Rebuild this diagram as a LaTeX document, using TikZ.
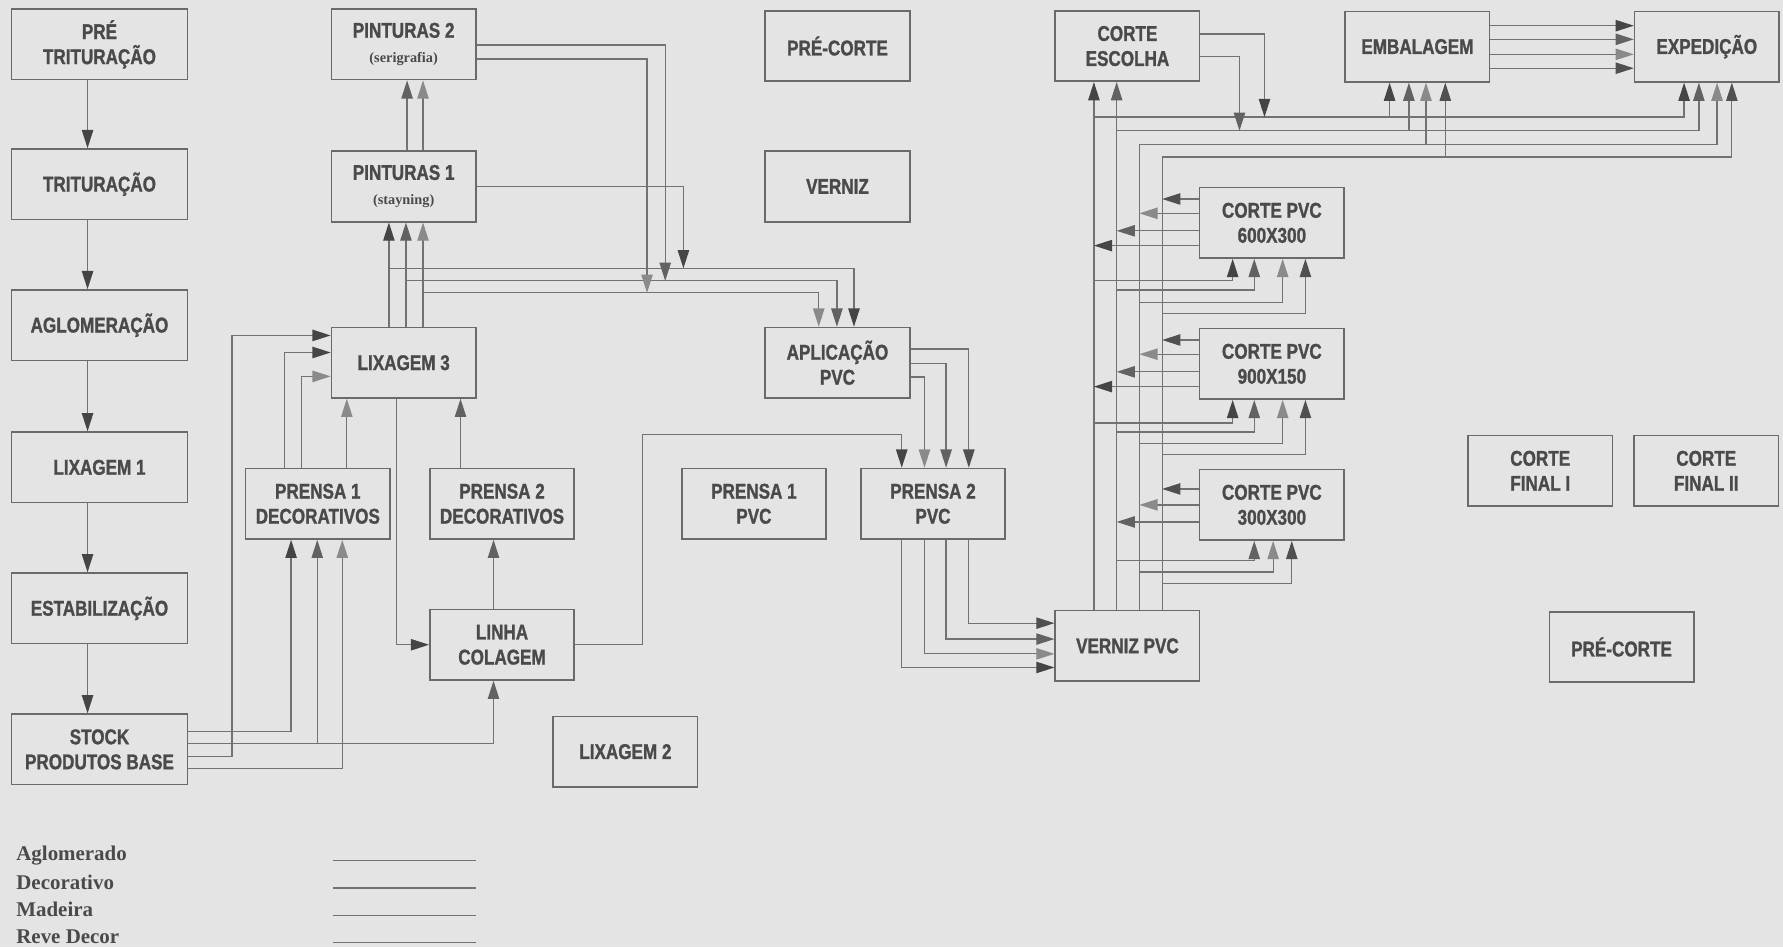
\documentclass[tikz,border=0pt]{standalone}
\usepackage{fontspec}
\newfontfamily\boxfont{Liberation Sans}[FakeStretch=0.8, BoldFeatures={FakeBold=1.2}]
\newfontfamily\legfont{Liberation Serif}
\usetikzlibrary{arrows.meta}
\definecolor{bg}{HTML}{E4E4E4}
\definecolor{edge}{HTML}{6A6A6A}
\definecolor{txt}{HTML}{4A4A4A}
\definecolor{ln}{HTML}{727272}
\definecolor{ca}{HTML}{454545}
\definecolor{cb}{HTML}{626262}
\definecolor{cc}{HTML}{8A8A8A}
\definecolor{cd}{HTML}{505050}
\tikzset{
  box/.style={draw=edge, line width=0.7pt, inner sep=0pt, minimum width=63.5pt,
    minimum height=31pt, align=center, text=txt,
    font=\boxfont\bfseries\fontsize{9.4}{11}\selectfont},
  wide/.style={minimum width=77.5pt},
  conn/.style={draw=ln, line width=0.55pt},
  a1/.style={conn, -{Triangle[length=8pt,width=5pt,color=ca]}},
  a2/.style={conn, -{Triangle[length=8pt,width=5pt,color=cb]}},
  a3/.style={conn, -{Triangle[length=8pt,width=5pt,color=cc]}},
  a4/.style={conn, -{Triangle[length=8pt,width=5pt,color=cd]}},
  leg/.style={anchor=west, inner sep=0pt, text=txt,
    font=\legfont\bfseries\fontsize{9.2}{11}\selectfont},
}
\newcommand{\subtxt}[1]{{\legfont\bfseries\fontsize{6.3}{8}\selectfont #1}}
\begin{document}
\begin{tikzpicture}[x=0.5pt,y=-0.5pt]
\path[use as bounding box, fill=bg] (0,0) rectangle (1568,833);

% left column
\node[box,wide] (pretrit) at (87.5,39) {PRÉ\\TRITURAÇÃO};
\node[box,wide] (trit) at (87.5,162) {TRITURAÇÃO};
\node[box,wide] (aglom) at (87.5,286) {AGLOMERAÇÃO};
\node[box,wide] (lix1) at (87.5,411) {LIXAGEM 1};
\node[box,wide] (estab) at (87.5,535) {ESTABILIZAÇÃO};
\node[box,wide] (stock) at (87.5,659) {STOCK\\PRODUTOS BASE};

% second group
\node[box] (pint2) at (355,39) {PINTURAS 2\\[0pt]\subtxt{(serigrafia)}};
\node[box] (pint1) at (355,164) {PINTURAS 1\\[0pt]\subtxt{(stayning)}};
\node[box] (lix3) at (355,319) {LIXAGEM 3};
\node[box] (pren1d) at (279.5,443) {PRENSA 1\\DECORATIVOS};
\node[box] (pren2d) at (441.5,443) {PRENSA 2\\DECORATIVOS};
\node[box] (linha) at (441.5,567) {LINHA\\COLAGEM};
\node[box] (lix2) at (550,661) {LIXAGEM 2};

% middle
\node[box] (precorte1) at (736.5,40.5) {PRÉ-CORTE};
\node[box] (verniz) at (736.5,164) {VERNIZ};
\node[box] (aplic) at (736.5,319) {APLICAÇÃO\\PVC};
\node[box] (pren1p) at (663,443) {PRENSA 1\\PVC};
\node[box] (pren2p) at (820.5,443) {PRENSA 2\\PVC};
\node[box] (vernizp) at (991.5,568) {VERNIZ PVC};

% right
\node[box] (corteesc) at (991.5,40.5) {CORTE\\ESCOLHA};
\node[box] (embal) at (1246.5,41) {EMBALAGEM};
\node[box] (exped) at (1501,41) {EXPEDIÇÃO};
\node[box] (cpvc1) at (1118.5,196) {CORTE PVC\\600X300};
\node[box] (cpvc2) at (1118.5,320) {CORTE PVC\\900X150};
\node[box] (cpvc3) at (1118.5,444) {CORTE PVC\\300X300};
\node[box] (cfinal1) at (1354.5,414) {CORTE\\FINAL I};
\node[box] (cfinal2) at (1500.5,414) {CORTE\\FINAL II};
\node[box] (precorte2) at (1426,569) {PRÉ-CORTE};

% left column flow
\foreach \s/\t in {pretrit/trit, trit/aglom, aglom/lix1, lix1/estab, estab/stock}
  \draw[a1] (\s.south -| 77,0) -- (\t.north -| 77,0);

% stock outputs
\draw[a1] (stock.east |- 0,643.5) -| (pren1d.south -| 256,0);
\draw[a2] (stock.east |- 0,654) -| (pren1d.south -| 279,0);
\draw[a2] (stock.east |- 0,654) -| (linha.south -| 434,0);
\draw[a1] (stock.east |- 0,665) -| (204,295) -- (lix3.west |- 0,295);
\draw[a3] (stock.east |- 0,676) -| (pren1d.south -| 301,0);

% prensa decorativos -> lixagem 3
\draw[a1] (pren1d.north -| 250,0) |- (lix3.west |- 0,310);
\draw[a3] (pren1d.north -| 265,0) |- (lix3.west |- 0,331);
\draw[a3] (pren1d.north -| 305,0) -- (lix3.south -| 305,0);
\draw[a2] (pren2d.north -| 405,0) -- (lix3.south -| 405,0);
\draw[a2] (linha.north -| 434,0) -- (pren2d.south -| 434,0);
\draw[a1] (lix3.south -| 349,0) |- (linha.west);
\draw[a1] (linha.east) -| (565,382) -| (pren2p.north -| 793,0);

% lixagem 3 -> pinturas 1 and aplicacao
\draw[a1] (lix3.north -| 342,0) -- (pint1.south -| 342,0);
\draw[a2] (lix3.north -| 357,0) -- (pint1.south -| 357,0);
\draw[a3] (lix3.north -| 372,0) -- (pint1.south -| 372,0);
\draw[a1] (lix3.north -| 342,0) |- (751,236) -- (aplic.north -| 751,0);
\draw[a2] (lix3.north -| 357,0) |- (736,247) -- (aplic.north -| 736,0);
\draw[a3] (lix3.north -| 372,0) |- (720,257.5) -- (aplic.north -| 720,0);

% pinturas
\draw[a2] (pint1.north -| 358,0) -- (pint2.south -| 358,0);
\draw[a3] (pint1.north -| 372,0) -- (pint2.south -| 372,0);
\coordinate (m1) at (601,236);
\coordinate (m2) at (585,247);
\coordinate (m3) at (569,257.5);
\draw[a1] (pint1.east) -| (m1);
\draw[a2] (pint2.east |- 0,39.6) -| (m2);
\draw[a3] (pint2.east |- 0,52) -| (m3);

% aplicacao -> prensa 2 pvc
\draw[a4] (aplic.east |- 0,307) -| (pren2p.north -| 852,0);
\draw[a2] (aplic.east |- 0,319.6) -| (pren2p.north -| 832,0);
\draw[a3] (aplic.east |- 0,331.5) -| (pren2p.north -| 813,0);

% prensa 2 pvc -> verniz pvc
\draw[a4] (pren2p.south -| 852,0) |- (vernizp.west |- 0,548);
\draw[a2] (pren2p.south -| 832,0) |- (vernizp.west |- 0,562);
\draw[a3] (pren2p.south -| 813,0) |- (vernizp.west |- 0,575);
\draw[a1] (pren2p.south -| 793,0) |- (vernizp.west |- 0,587);

% verniz pvc trunks
\draw[a1] (vernizp.north -| 962,0) -- (corteesc.south -| 962,0);
\draw[a2] (vernizp.north -| 982,0) -- (corteesc.south -| 982,0);
\coordinate (j1) at (962,103);
\coordinate (j2) at (982,115);
\draw[a1] (j1) -| (exped.south -| 1481,0);
\draw[a1] (j1 -| 1222,0) -- (embal.south -| 1222,0);
\draw[a2] (j2) -| (exped.south -| 1494,0);
\draw[a2] (j2 -| 1239,0) -- (embal.south -| 1239,0);
\draw[a3] (vernizp.north -| 1002,0) |- (1510,127) -- (exped.south -| 1510,0);
\draw[a3] (1254,127) -- (embal.south -| 1254,0);
\draw[a4] (vernizp.north -| 1022,0) |- (1523,138) -- (exped.south -| 1523,0);
\draw[a4] (1271,138) -- (embal.south -| 1271,0);

% corte escolha outputs
\coordinate (k1) at (1112,103);
\coordinate (k2) at (1090,115);
\draw[a1] (corteesc.east |- 0,30) -| (k1);
\draw[a2] (corteesc.east |- 0,50) -| (k2);

% embalagem -> expedicao
\draw[a1] (embal.east |- 0,22.6) -- (exped.west |- 0,22.6);
\draw[a2] (embal.east |- 0,34.6) -- (exped.west |- 0,34.6);
\draw[a3] (embal.east |- 0,47.8) -- (exped.west |- 0,47.8);
\draw[a4] (embal.east |- 0,60) -- (exped.west |- 0,60);

% corte pvc 600x300
\draw[a4] (cpvc1.west |- 0,175) -- (1022,175);
\draw[a3] (cpvc1.west |- 0,187.6) -- (1002,187.6);
\draw[a2] (cpvc1.west |- 0,203) -- (982,203);
\draw[a1] (cpvc1.west |- 0,216) -- (962,216);
\draw[a1] (962,247) -| (cpvc1.south -| 1084,0);
\draw[a2] (982,255) -| (cpvc1.south -| 1103,0);
\draw[a3] (1002,266) -| (cpvc1.south -| 1128,0);
\draw[a4] (1022,276) -| (cpvc1.south -| 1148,0);

% corte pvc 900x150
\draw[a4] (cpvc2.west |- 0,299) -- (1022,299);
\draw[a3] (cpvc2.west |- 0,311.5) -- (1002,311.5);
\draw[a2] (cpvc2.west |- 0,327) -- (982,327);
\draw[a1] (cpvc2.west |- 0,340) -- (962,340);
\draw[a1] (962,372) -| (cpvc2.south -| 1084,0);
\draw[a2] (982,380) -| (cpvc2.south -| 1103,0);
\draw[a3] (1002,390) -| (cpvc2.south -| 1128,0);
\draw[a4] (1022,400) -| (cpvc2.south -| 1148,0);

% corte pvc 300x300
\draw[a4] (cpvc3.west |- 0,430) -- (1022,430);
\draw[a3] (cpvc3.west |- 0,444) -- (1002,444);
\draw[a2] (cpvc3.west |- 0,459) -- (982,459);
\draw[a2] (982,492.6) -| (cpvc3.south -| 1103,0);
\draw[a3] (1002,503) -| (cpvc3.south -| 1119.6,0);
\draw[a4] (1022,513) -| (cpvc3.south -| 1136,0);

% legend
\node[leg] (lgA) at (14,752) {Aglomerado};
\node[leg] (lgB) at (14,776) {Decorativo};
\node[leg] (lgC) at (14,800) {Madeira};
\node[leg] (lgD) at (14,824) {Reve Decor};
\draw[conn] (293,757) -- (419,757);
\draw[conn] (293,781) -- (419,781);
\draw[conn] (293,805) -- (419,805);
\draw[conn] (293,829) -- (419,829);
\end{tikzpicture}
\end{document}
